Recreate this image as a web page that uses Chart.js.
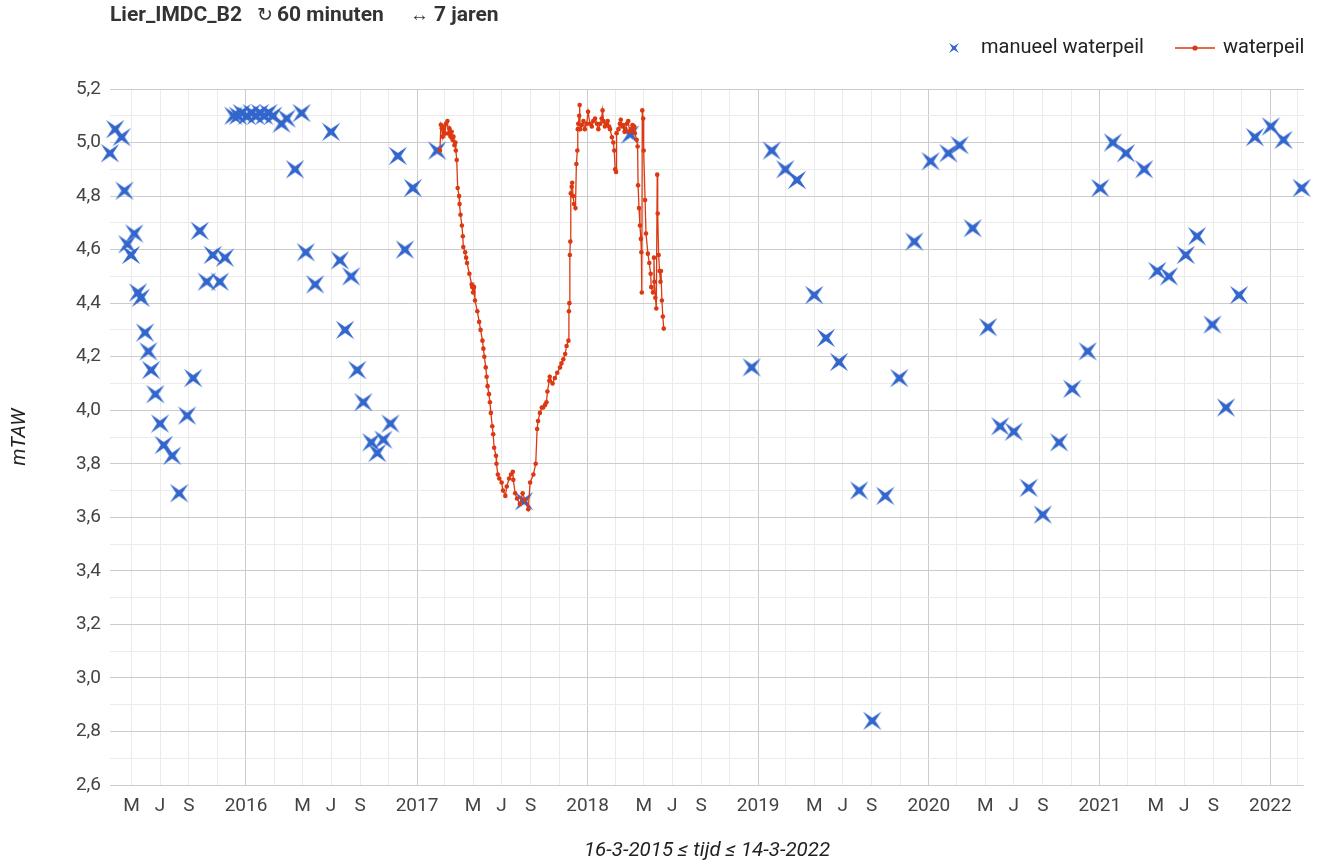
<!DOCTYPE html>
<html><head><meta charset="utf-8">
<script src="https://cdn.jsdelivr.net/npm/chart.js@4/dist/chart.umd.min.js"></script>
<style>html,body{margin:0;padding:0;background:#fff}canvas{display:block}</style>
</head><body>
<canvas id="c" width="1318" height="868" style="width:1318px;height:868px"></canvas>
<script>
// ---------- data ----------
const manualDates = [
'2015-03-16','2015-03-27','2015-04-10','2015-04-16','2015-04-22','2015-04-30','2015-05-07','2015-05-15','2015-05-21','2015-05-30',
'2015-06-06','2015-06-12','2015-06-21','2015-07-01','2015-07-09','2015-07-27','2015-08-11','2015-08-28','2015-09-10','2015-09-24',
'2015-10-09','2015-10-22','2015-11-06','2015-11-17','2015-12-05','2015-12-15','2015-12-23','2016-01-03','2016-01-13','2016-01-22',
'2016-01-31','2016-02-09','2016-02-18','2016-02-28','2016-03-17','2016-03-28','2016-04-15','2016-04-29','2016-05-08','2016-05-28',
'2016-07-01','2016-07-20','2016-07-31','2016-08-13','2016-08-26','2016-09-08','2016-09-25','2016-10-08','2016-10-21','2016-11-05',
'2016-11-21','2016-12-06','2016-12-23','2017-02-13','2017-08-18','2018-04-02','2018-12-18','2019-01-30','2019-02-28','2019-03-25',
'2019-05-01','2019-05-26','2019-06-23','2019-08-05','2019-09-02','2019-09-30','2019-10-30','2019-12-01','2020-01-05','2020-02-12',
'2020-03-07','2020-04-04','2020-05-07','2020-06-02','2020-07-01','2020-08-02','2020-09-01','2020-10-06','2020-11-03','2020-12-06',
'2021-01-02','2021-01-29','2021-02-26','2021-04-06','2021-05-04','2021-05-29','2021-07-04','2021-07-28','2021-08-30','2021-09-28',
'2021-10-26','2021-11-29','2022-01-02','2022-01-29','2022-03-09'];
const manualValues = [
4.96,5.05,5.02,4.82,4.62,4.58,4.66,4.44,4.42,4.29,
4.22,4.15,4.06,3.95,3.87,3.83,3.69,3.98,4.12,4.67,
4.48,4.58,4.48,4.57,5.10,5.10,5.11,5.10,5.11,5.10,
5.11,5.10,5.11,5.10,5.07,5.09,4.90,5.11,4.59,4.47,
5.04,4.56,4.30,4.50,4.15,4.03,3.88,3.84,3.89,3.95,
4.95,4.60,4.83,4.97,3.66,5.03,4.16,4.97,4.90,4.86,
4.43,4.27,4.18,3.70,2.84,3.68,4.12,4.63,4.93,4.96,
4.99,4.68,4.31,3.94,3.92,3.71,3.61,3.88,4.08,4.22,
4.83,5.00,4.96,4.90,4.52,4.50,4.58,4.65,4.32,4.01,
4.43,5.02,5.06,5.01,4.83];

const levelDates = [
'2017-02-19','2017-02-21','2017-02-23','2017-02-25','2017-02-28','2017-03-02','2017-03-04','2017-03-07','2017-03-09','2017-03-11',
'2017-03-14','2017-03-16','2017-03-18','2017-03-20','2017-03-22','2017-03-24','2017-03-25','2017-03-27','2017-03-29','2017-04-01',
'2017-04-02','2017-04-04','2017-04-07','2017-04-09','2017-04-10','2017-04-14','2017-04-16','2017-04-18','2017-04-23','2017-04-28',
'2017-04-29','2017-05-01','2017-05-03','2017-05-05','2017-05-10','2017-05-14','2017-05-17','2017-05-21','2017-05-23','2017-05-25',
'2017-05-28','2017-05-30','2017-06-01','2017-06-04','2017-06-06','2017-06-08','2017-06-11','2017-06-13','2017-06-15','2017-06-19',
'2017-06-20','2017-06-23','2017-06-26','2017-07-01','2017-07-04','2017-07-09','2017-07-12','2017-07-17','2017-07-21','2017-07-25',
'2017-07-26','2017-07-30','2017-08-03','2017-08-09','2017-08-15','2017-08-20','2017-08-27','2017-08-31','2017-09-07','2017-09-12',
'2017-09-15','2017-09-17','2017-09-21','2017-09-25','2017-09-28','2017-10-02','2017-10-05','2017-10-07','2017-10-11','2017-10-12',
'2017-10-18','2017-10-23','2017-10-28','2017-11-03','2017-11-06','2017-11-10','2017-11-14','2017-11-17','2017-11-21','2017-11-22',
'2017-11-23','2017-11-24','2017-11-25','2017-11-26','2017-11-28','2017-11-29','2017-12-01','2017-12-03','2017-12-06','2017-12-08',
'2017-12-10','2017-12-11','2017-12-12','2017-12-14','2017-12-15','2017-12-16','2017-12-19','2017-12-23','2017-12-26','2017-12-30',
'2018-01-02','2018-01-06','2018-01-10','2018-01-13','2018-01-17','2018-01-21','2018-01-24','2018-01-28','2018-01-31','2018-02-02',
'2018-02-04','2018-02-07','2018-02-10','2018-02-13','2018-02-16','2018-02-18','2018-02-22','2018-02-25','2018-02-27','2018-03-01',
'2018-03-03','2018-03-04','2018-03-08','2018-03-11','2018-03-13','2018-03-16','2018-03-18','2018-03-21','2018-03-23','2018-03-26',
'2018-03-29','2018-04-01','2018-04-04','2018-04-07','2018-04-09','2018-04-11','2018-04-12','2018-04-16','2018-04-18','2018-04-19',
'2018-04-21','2018-04-23','2018-04-25','2018-04-26','2018-04-27','2018-04-28','2018-04-30','2018-05-01','2018-05-04','2018-05-06',
'2018-05-10','2018-05-13','2018-05-16','2018-05-17','2018-05-21','2018-05-23','2018-05-24','2018-05-26','2018-05-28','2018-05-30',
'2018-05-31','2018-06-02','2018-06-04','2018-06-06','2018-06-07','2018-06-09','2018-06-11','2018-06-13'];
const levelValues = [
4.97,5.066,5.053,5.022,5.06,5.034,5.07,5.08,5.034,5.053,
5.022,5.04,5.01,5.022,4.99,5.00,4.97,4.935,4.83,4.80,
4.77,4.73,4.69,4.65,4.61,4.59,4.57,4.55,4.51,4.47,
4.46,4.44,4.46,4.41,4.37,4.33,4.30,4.26,4.23,4.20,
4.16,4.125,4.09,4.06,4.03,3.99,3.94,3.91,3.86,3.83,
3.80,3.76,3.745,3.73,3.70,3.68,3.715,3.745,3.76,3.77,
3.74,3.69,3.67,3.65,3.69,3.665,3.63,3.73,3.76,3.80,
3.93,3.96,3.99,4.01,4.01,4.02,4.03,4.07,4.11,4.125,
4.10,4.12,4.14,4.16,4.175,4.19,4.21,4.24,4.26,4.37,
4.40,4.58,4.63,4.81,4.835,4.85,4.80,4.77,4.755,4.92,
4.97,5.05,5.07,5.10,5.14,5.05,5.065,5.08,5.05,5.07,
5.115,5.07,5.06,5.08,5.09,5.07,5.05,5.07,5.09,5.12,
5.08,5.06,5.07,5.08,5.06,5.05,5.02,5.00,4.97,4.90,
4.89,5.035,5.05,5.07,5.085,5.06,5.065,5.04,5.05,5.07,
5.08,5.04,5.05,5.065,5.05,5.06,5.035,5.01,4.985,4.84,
4.755,4.69,4.64,4.59,4.44,5.12,5.09,4.97,4.785,4.66,
4.585,4.55,4.51,4.46,4.44,4.57,4.48,4.42,4.38,4.88,
4.735,4.58,4.52,4.48,4.52,4.41,4.35,4.305];

const yTickValues = [2.6,2.7,2.8,2.9,3.0,3.1,3.2,3.3,3.4,3.5,3.6,3.7,3.8,3.9,4.0,4.1,4.2,4.3,4.4,4.5,4.6,4.7,4.8,4.9,5.0,5.1,5.2];
const monthLetters = {4:'M', 6:'J', 8:'S'};   // mei, juli, september
const tickMonths = [0,2,4,6,8,10];
const tickYears = [2015,2016,2017,2018,2019,2020,2021,2022];
const titleMain = 'Lier_IMDC_B2';
const titleParts = [['\u21BB', '60 minuten'], ['\u2194', '7 jaren']];
const seriesNames = ['manueel waterpeil', 'waterpeil'];
const xTitle = '16-3-2015 \u2264 tijd \u2264 14-3-2022';
const yTitle = 'mTAW';
const xMinDate = '2015-03-16', xMaxDate = '2022-03-14';

// ---------- helpers ----------
function toTs(s){ const p = s.split('-').map(Number); return Date.UTC(p[0], p[1]-1, p[2]); }
const BLUE = '#3366cc', RED = '#dc3912';
const FONT = 'Roboto';

function makeStar(r, inner, color){
  let s = Math.ceil(2*r + 2); if (s % 2) s++;
  const c = document.createElement('canvas'); c.width = s; c.height = s;
  const g = c.getContext('2d'); g.translate(s/2, s/2); g.beginPath();
  for (let i = 0; i < 8; i++) {
    const a = Math.PI/4 + i*Math.PI/4; const rr = (i % 2 === 0) ? r : inner;
    g.lineTo(rr*Math.cos(a), rr*Math.sin(a));
  }
  g.closePath(); g.fillStyle = color; g.fill(); return c;
}
const starImg = makeStar(13, 3.1, BLUE);

const manualData = manualDates.map((d,i) => ({x: toTs(d), y: manualValues[i]}));
const levelData = levelDates.map((d,i) => ({x: toTs(d), y: levelValues[i]}));

const overlay = {
  id: 'overlay',
  afterDraw(chart){
    const ctx = chart.ctx; ctx.save();
    ctx.fillStyle = '#333'; ctx.textBaseline = 'middle';
    ctx.font = 'bold 21px ' + FONT;
    ctx.fillText(titleMain, 110, 16);
    ctx.font = '19px ' + FONT; ctx.fillText(titleParts[0][0], 257, 16);
    ctx.font = 'bold 21px ' + FONT; ctx.fillText(titleParts[0][1], 277, 16);
    ctx.font = '19px ' + FONT; ctx.fillText(titleParts[1][0], 410, 16);
    ctx.font = 'bold 21px ' + FONT; ctx.fillText(titleParts[1][1], 434, 16);
    // legend
    const ly = 48;
    const small = makeStar(7, 1.8, BLUE);
    ctx.drawImage(small, 954 - small.width/2, ly - small.height/2);
    ctx.font = '20px ' + FONT; ctx.fillStyle = '#222';
    ctx.fillText(seriesNames[0], 981, ly);
    ctx.strokeStyle = RED; ctx.lineWidth = 1.5;
    ctx.beginPath(); ctx.moveTo(1175, ly); ctx.lineTo(1215, ly); ctx.stroke();
    ctx.fillStyle = RED; ctx.beginPath(); ctx.arc(1195, ly, 2.6, 0, Math.PI*2); ctx.fill();
    ctx.fillStyle = '#222';
    ctx.fillText(seriesNames[1], 1223, ly);
    ctx.restore();
  }
};

new Chart(document.getElementById('c'), {
  type: 'scatter',
  data: {
    datasets: [
      { label: seriesNames[1], data: levelData, showLine: true, borderColor: RED, backgroundColor: RED,
        borderWidth: 1.3, pointRadius: 2.3, pointHoverRadius: 2.3, pointBorderWidth: 0, order: 0 },
      { label: seriesNames[0], data: manualData, pointStyle: starImg, borderColor: BLUE, backgroundColor: BLUE, order: 1, clip: false }
    ]
  },
  options: {
    responsive: false, animation: false, devicePixelRatio: 1,
    layout: { padding: { top: 89, right: 14, left: 0, bottom: 0 } },
    plugins: { legend: { display: false }, tooltip: { enabled: false }, title: { display: false } },
    scales: {
      x: {
        type: 'linear', min: toTs(xMinDate), max: toTs(xMaxDate),
        afterBuildTicks(scale){
          const t = [];
          tickYears.forEach(y => tickMonths.forEach(m => {
            const v = Date.UTC(y, m, 1);
            if (v >= scale.min && v <= scale.max) t.push({value: v});
          }));
          scale.ticks = t;
        },
        afterFit(scale){ scale.height = 83; },
        ticks: {
          autoSkip: false, maxRotation: 0, minRotation: 0, padding: 10, color: '#444',
          font: { family: FONT, size: 19 },
          callback(v){ const d = new Date(v); const m = d.getUTCMonth();
            return m === 0 ? String(d.getUTCFullYear()) : (monthLetters[m] || ''); }
        },
        grid: { drawTicks: false, lineWidth: 1,
          color(ctx){ if (!ctx.tick) return '#ebebeb'; return new Date(ctx.tick.value).getUTCMonth() === 0 ? '#cccccc' : '#ebebeb'; } },
        border: { display: false },
        title: { display: true, text: xTitle, color: '#222', font: { family: FONT, size: 20.5, style: 'italic' }, padding: { top: 0, bottom: 5 } }
      },
      y: {
        min: 2.6, max: 5.2,
        afterBuildTicks(scale){ scale.ticks = yTickValues.map(v => ({value: v})); },
        afterFit(scale){ scale.width = 110; },
        ticks: {
          padding: 9, color: '#444', font: { family: FONT, size: 19 },
          callback(v){ return Math.round(v*10) % 2 === 0 ? v.toFixed(1).replace('.', ',') : ''; }
        },
        grid: { drawTicks: false, lineWidth: 1,
          color(ctx){ if (!ctx.tick) return '#ebebeb'; return Math.round(ctx.tick.value*10) % 2 === 0 ? '#cccccc' : '#ebebeb'; } },
        border: { display: false },
        title: { display: true, text: yTitle, color: '#222', font: { family: FONT, size: 20, style: 'italic' }, padding: { top: 8, bottom: 0 } }
      }
    }
  },
  plugins: [overlay]
});
</script>
</body></html>
